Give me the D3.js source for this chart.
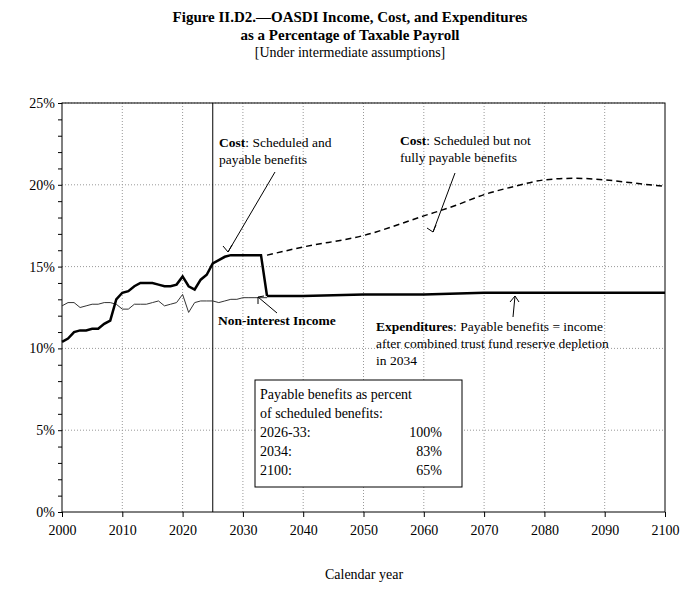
<!DOCTYPE html>
<html><head><meta charset="utf-8">
<script src="https://cdn.jsdelivr.net/npm/d3@7"></script>
<style>body{margin:0;background:#fff;font-family:"Liberation Serif",serif}</style>
</head><body><div id="vis"></div>
<script>
// historical / short-range cost
const costYears = [2000,2001,2002,2003,2004,2005,2006,2007,2008,2009,2010,2011,2012,2013,2014,2015,2016,2017,2018,2019,2020,2021,2022,2023,2024,2025,2026,2027,2028,2029,2030,2031,2032,2033,2034];
const costVals  = [10.4,10.6,11.0,11.1,11.1,11.2,11.2,11.5,11.7,13.0,13.4,13.5,13.8,14.0,14.0,14.0,13.9,13.8,13.8,13.9,14.4,13.8,13.6,14.2,14.5,15.2,15.4,15.6,15.7,15.7,15.7,15.7,15.7,15.7,13.2];
// cost not fully payable (dashed)
const unpaidYears = [2034,2040,2050,2060,2065,2070,2075,2080,2085,2090,2095,2100];
const unpaidVals  = [15.7,16.2,16.9,18.1,18.7,19.4,19.9,20.3,20.4,20.3,20.1,19.9];
// payable expenditures after depletion
const expYears = [2034,2040,2050,2060,2070,2080,2090,2100];
const expVals  = [13.2,13.2,13.3,13.3,13.4,13.4,13.4,13.4];
// non-interest income
const incYears = [2000,2001,2002,2003,2004,2005,2006,2007,2008,2009,2010,2011,2012,2013,2014,2015,2016,2017,2018,2019,2020,2021,2022,2023,2024,2025,2026,2027,2028,2029,2030,2031,2032,2033,2034];
const incVals  = [12.6,12.8,12.8,12.5,12.6,12.7,12.7,12.8,12.8,12.7,12.4,12.4,12.7,12.7,12.7,12.8,12.9,12.6,12.7,12.8,13.3,12.2,12.8,12.9,12.9,12.9,12.8,12.9,13.0,13.0,13.1,13.1,13.1,13.1,13.1];
const xTicks = [2000,2010,2020,2030,2040,2050,2060,2070,2080,2090,2100];
const yTicks = [0,5,10,15,20,25];

const W = 700, H = 593;
const M = {left: 62, right: 35, top: 103, bottom: 81};
const svg = d3.select("#vis").append("svg").attr("width", W).attr("height", H);
const x = d3.scaleLinear().domain([2000, 2100]).range([M.left, W - M.right]);
const y = d3.scaleLinear().domain([0, 25]).range([H - M.bottom, M.top]);

// title
const t = svg.append("text").attr("text-anchor", "middle").attr("font-weight", "bold").attr("font-size", 15);
t.append("tspan").attr("x", 350).attr("y", 22).text("Figure II.D2.\u2014OASDI Income, Cost, and Expenditures");
t.append("tspan").attr("x", 350).attr("y", 40).text("as a Percentage of Taxable Payroll");
svg.append("text").attr("x", 350).attr("y", 57).attr("text-anchor", "middle").attr("font-size", 14)
  .text("[Under intermediate assumptions]");

// grid
svg.append("g").selectAll("line").data(yTicks.slice(1)).join("line")
  .attr("x1", M.left).attr("x2", W - M.right).attr("y1", d => y(d)).attr("y2", d => y(d))
  .attr("stroke", "#999").attr("stroke-dasharray", "1,2");
svg.append("g").selectAll("line").data(xTicks.slice(1, -1)).join("line")
  .attr("y1", M.top).attr("y2", H - M.bottom).attr("x1", d => x(d)).attr("x2", d => x(d))
  .attr("stroke", "#999").attr("stroke-dasharray", "1,2");
svg.append("rect").attr("x", M.left).attr("y", M.top).attr("width", W - M.left - M.right)
  .attr("height", H - M.top - M.bottom).attr("fill", "none").attr("stroke", "#000");

// axes
const xa = svg.append("g").attr("transform", `translate(0,${H - M.bottom})`)
  .call(d3.axisBottom(x).tickValues(xTicks).tickFormat(d3.format("d")).tickSize(5));
const ya = svg.append("g").attr("transform", `translate(${M.left},0)`)
  .call(d3.axisLeft(y).tickValues(d3.range(0, 26)).tickFormat(d => d % 5 === 0 ? d + "%" : "").tickSize(4));
[xa, ya].forEach(a => { a.selectAll("text").attr("font-family", "Liberation Serif").attr("font-size", 14).attr("fill", "#000"); a.select(".domain").remove(); });
xa.selectAll("text").attr("dy", "1.1em");
svg.append("text").attr("x", 364).attr("y", 579).attr("text-anchor", "middle").attr("font-size", 14).text("Calendar year");

// 2025 line
svg.append("line").attr("x1", x(2025)).attr("x2", x(2025)).attr("y1", M.top).attr("y2", H - M.bottom).attr("stroke", "#000");

const line = (xs, vs) => d3.line().x((d, i) => x(xs[i])).y(d => y(d))(vs);
svg.append("path").attr("d", line(incYears, incVals)).attr("fill", "none").attr("stroke", "#333").attr("stroke-width", 1);
svg.append("path").attr("d", line(costYears, costVals)).attr("fill", "none").attr("stroke", "#000").attr("stroke-width", 2.5);
svg.append("path").attr("d", line(expYears, expVals)).attr("fill", "none").attr("stroke", "#000").attr("stroke-width", 2.5);
svg.append("path").attr("d", d3.line().curve(d3.curveMonotoneX).x((d, i) => x(unpaidYears[i])).y(d => y(d))(unpaidVals))
  .attr("fill", "none").attr("stroke", "#000").attr("stroke-width", 1.5).attr("stroke-dasharray", "6,4");

// labels
function label(lines, lx, ly) {
  const g = svg.append("text").attr("font-size", 13.5);
  lines.forEach((l, i) => {
    const ts = g.append("tspan").attr("x", lx).attr("y", ly + i * 17);
    l.forEach(([s, b]) => ts.append("tspan").attr("font-weight", b ? "bold" : null).text(s));
  });
}
label([[["Cost", 1], [": Scheduled and", 0]], [["payable benefits", 0]]], 219, 147);
label([[["Cost", 1], [": Scheduled but not", 0]], [["fully payable benefits", 0]]], 400, 145);
label([[["Non-interest Income", 1]]], 218, 325);
label([[["Expenditures", 1], [": Payable benefits = income", 0]], [["after combined trust fund reserve depletion", 0]], [["in 2034", 0]]], 376, 331);

const arrow = (x1, y1, x2, y2) => svg.append("line").attr("x1", x1).attr("y1", y1).attr("x2", x2).attr("y2", y2).attr("stroke", "#000");
arrow(275, 172, 228, 252); arrow(223, 246, 228, 252); arrow(232, 245, 228, 252);
arrow(455, 173, 433, 232); arrow(427, 228, 433, 232); arrow(436, 225, 433, 232);
arrow(277, 313, 258, 297); arrow(264, 296, 258, 297); arrow(258, 304, 258, 297);
arrow(513, 317, 515, 296); arrow(510, 302, 515, 296); arrow(519, 302, 515, 296);

// box
svg.append("rect").attr("x", 255).attr("y", 380).attr("width", 207).attr("height", 107).attr("fill", "#fff").attr("stroke", "#000");
const boxRows = [["Payable benefits as percent", ""], ["of scheduled benefits:", ""], ["2026-33:", "100%"], ["2034:", "83%"], ["2100:", "65%"]];
boxRows.forEach((r, i) => {
  svg.append("text").attr("x", 260).attr("y", 399 + i * 19).attr("font-size", 14).text(r[0]);
  svg.append("text").attr("x", 442).attr("y", 399 + i * 19).attr("font-size", 14).attr("text-anchor", "end").text(r[1]);
});
</script></body></html>
